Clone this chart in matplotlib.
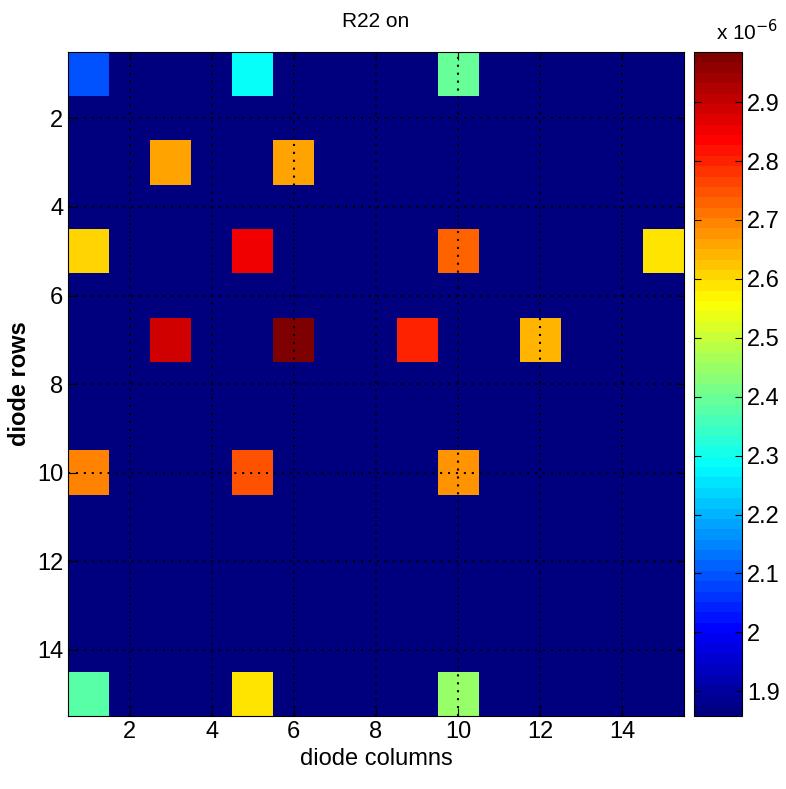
import numpy as np
import matplotlib
matplotlib.use("Agg")
import matplotlib.pyplot as plt
from matplotlib.colors import LinearSegmentedColormap

# %%
# diode grid readings (x 1e-6), only the lit diodes, rest sit at the floor value
rows = [1, 1, 1, 3, 3, 5, 5, 5, 5, 7, 7, 7, 7, 10, 10, 10, 15, 15, 15]
cols = [1, 5, 10, 3, 6, 1, 5, 10, 15, 3, 6, 9, 12, 1, 5, 10, 1, 5, 10]
vals = [2.087, 2.297, 2.40, 2.667, 2.667, 2.60, 2.85, 2.733, 2.581,
        2.882, 2.985, 2.80, 2.634, 2.69, 2.756, 2.685, 2.369, 2.58, 2.446]
floor_val = 1.858
n_rows, n_cols = 15, 15
cbar_ticks = [1.9, 2.0, 2.1, 2.2, 2.3, 2.4, 2.5, 2.6, 2.7, 2.8, 2.9]

# %%
plt.rcParams["font.family"] = ["Liberation Sans", "DejaVu Sans"]

# matlab style jet(64)
mjet = LinearSegmentedColormap("mjet", {
    "red":   [(0, 0, 0), (0.375, 0, 0), (0.625, 1, 1), (0.875, 1, 1), (1, 0.5, 0.5)],
    "green": [(0, 0, 0), (0.125, 0, 0), (0.375, 1, 1), (0.625, 1, 1), (0.875, 0, 0), (1, 0, 0)],
    "blue":  [(0, 0.5, 0.5), (0.125, 1, 1), (0.375, 1, 1), (0.625, 0, 0), (1, 0, 0)],
}, N=64)

grid = np.full((n_rows, n_cols), floor_val)
for r, c, v in zip(rows, cols, vals):
    grid[r - 1, c - 1] = v

fig = plt.figure(figsize=(7.86, 7.89), dpi=100)
ax = fig.add_axes([0.0865, 0.0925, 0.7835, 0.8415])
cax = fig.add_axes([0.883, 0.0925, 0.061, 0.8415])

im = ax.imshow(grid * 1e-6, cmap=mjet, vmin=1.858e-6, vmax=2.985e-6,
               extent=[0.5, n_cols + 0.5, n_rows + 0.5, 0.5],
               aspect="auto", interpolation="nearest")
ax.set_xticks(np.arange(2, 15, 2))
ax.set_yticks(np.arange(2, 15, 2))
ax.grid(True, color="black", linestyle=(0, (1, 2.8)), linewidth=1.5)
ax.tick_params(direction="in", top=True, right=True, labelsize=17, length=6)
ax.set_xlabel("diode columns", fontsize=17)
ax.set_ylabel("diode rows", fontsize=17, fontweight="bold")
ax.set_title("R22 on", fontsize=15, pad=18)

cb = fig.colorbar(im, cax=cax)
cb.set_ticks([t * 1e-6 for t in cbar_ticks])
cb.set_ticklabels([f"{t:g}" for t in cbar_ticks])
cax.tick_params(direction="in", labelsize=17, length=5, left=True)
cax.text(0.45, 1.012, r"x 10$^{-6}$", transform=cax.transAxes, fontsize=15,
         ha="left", va="bottom")

fig.savefig("out.png", dpi=100)
